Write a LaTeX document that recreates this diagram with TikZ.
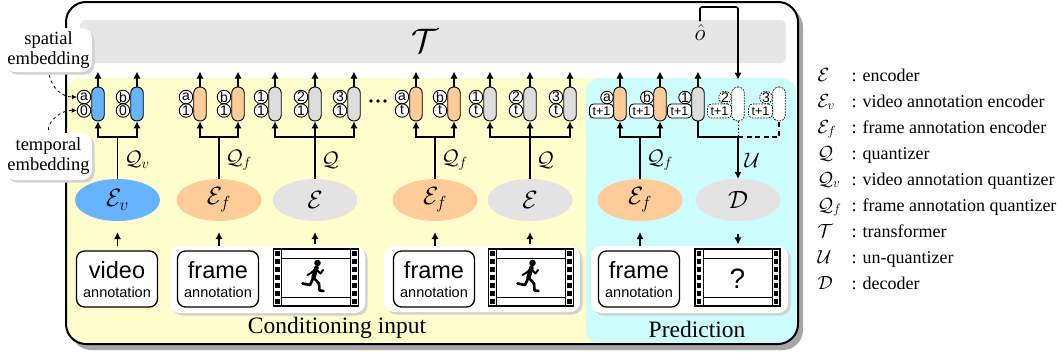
\RequirePackage{fix-cm}
\documentclass[tikz,border=0pt]{standalone}
\usepackage{fontspec}
\setmainfont{Liberation Serif}
\setsansfont{Liberation Sans}
\usetikzlibrary{arrows.meta,shapes.geometric,calc}

\definecolor{condyellow}{HTML}{FFFDCC}
\definecolor{predcyan}{HTML}{CCFCFC}
\definecolor{encblue}{HTML}{66B3FF}
\definecolor{encorange}{HTML}{FFCC99}
\definecolor{encgray}{HTML}{E3E3E3}
\definecolor{pillgray}{HTML}{DDDDDD}
\definecolor{bargray}{HTML}{E6E6E6}

\newcommand\fs[1]{\fontsize{#1}{#1}\selectfont}

% token: tall pill with a spatial tag (top) and a temporal tag (bottom)
\newcommand\tokpair[5]{%
  \node[pill,fill=#5] (#1) at (#2,104) {};
  \node[tag] (#1l) at (#2-14,110.5) {#4};
  \node[tag] (#1u) at (#2-14,97) {#3};
}
% predicted-step token with a wider "t+1" tag
\newcommand\tokpred[5]{%
  \node[pill,fill=#4,#5] (#1) at (#2,104) {};
  \node[tagbox,#5] (#1l) at (#2-18.5,111) {t+1};
  \node[tag,minimum size=12.5pt,#5] (#1u) at (#2-13,97.5) {#3};
}
% film strip frame with sprocket holes
\newcommand\filmstrip[2]{%
  \node[filmbox] (#1) at (#2) {};
  \begin{scope}[shift={(#1.center)}]
    \draw[line width=1pt] (-34.5,-28.5) -- (-34.5,28.5) (34.5,-28.5) -- (34.5,28.5)
      (-34.5,-19.5) -- (34.5,-19.5) (-34.5,19.5) -- (34.5,19.5);
    \foreach \yy in {-24,-16,-8,0,8,16,24}{
      \fill (-40.8,\yy-2.3) rectangle ++(4.6,4.6);
      \fill (36.2,\yy-2.3) rectangle ++(4.6,4.6);
    }
  \end{scope}}

\tikzset{runner/.pic={
  \fill (1.5,-14.5) circle (3.3);
  \draw[line width=4.4pt,line cap=round] (0.5,-10) -- (-2.5,0);
  \draw[line width=2pt,line cap=round,line join=round] (0,-8.5) -- (4.5,-4) -- (7,-7.5);
  \draw[line width=2pt,line cap=round,line join=round] (-0.5,-8.5) -- (-5,-4.5) -- (-8.5,-2.5);
  \draw[line width=2.7pt,line cap=round,line join=round] (-2.5,0) -- (3,6) -- (3.5,13) -- (7.5,13.5);
  \draw[line width=2.7pt,line cap=round,line join=round] (-2.5,0) -- (-6,7.5) -- (-13.5,6);
}}

\begin{document}
\begin{tikzpicture}[x=1pt,y=-1pt,
  arr/.style={line width=1.6pt,-{Latex[length=7pt,width=7.5pt]}},
  link/.style={line width=1.6pt},
  pill/.style={draw,line width=0.9pt,rounded corners=6pt,minimum width=12.5pt,minimum height=34pt,inner sep=0pt},
  tag/.style={circle,draw,fill=white,line width=0.9pt,minimum size=13.5pt,inner sep=0pt,font=\sffamily\fs{14}},
  tagbox/.style={draw,fill=white,rounded corners=4pt,line width=0.9pt,minimum width=24pt,minimum height=14pt,inner sep=0pt,font=\sffamily\fs{12.5}},
  ghost/.style={dash pattern=on 1.6pt off 1.2pt,line width=0.7pt,fill=white},
  enc/.style={ellipse,minimum width=85pt,minimum height=42pt,inner sep=0pt,font=\fs{25}},
  inbox/.style={draw,fill=white,rounded corners=8pt,line width=1.3pt,minimum width=81pt,minimum height=56pt,inner sep=0pt},
  filmbox/.style={draw,fill=white,line width=1.2pt,minimum width=85pt,minimum height=57pt,inner sep=0pt},
  notebox/.style={fill=white,rounded corners=10pt,minimum width=87pt,inner sep=0pt,align=center,font=\fontsize{18.5}{20}\selectfont},
  qlabel/.style={anchor=west,font=\fs{21}},
  legsym/.style={anchor=base west,font=\fs{19}},
  legtxt/.style={anchor=base west,font=\fs{18}},
  ]
\useasboundingbox (0,0) rectangle (1063,356);

% outer frame with shadow
\fill[black!35,rounded corners=20pt] (71,7) rectangle (803,350);
\fill[white,rounded corners=20pt] (66,2) rectangle (798,344);
\begin{scope}
  \clip[rounded corners=20pt] (66,2) rectangle (798,344);
  \fill[condyellow,rounded corners=15pt] (66,78) rectangle (610,360);
  \fill[predcyan,rounded corners=14pt] (586,78) rectangle (796,344);
\end{scope}
\draw[line width=2pt,rounded corners=20pt] (66,2) rectangle (798,344);

% transformer bar
\fill[bargray,rounded corners=6pt] (80,20) rectangle (786,63);
\node[font=\fs{34}] (Tr) at (425,41) {$\mathcal{T}$};
\node[font=\fs{23},inner sep=0.5pt] (oh) at (700,33) {$\hat{o}$};

% input panels
\fill[black!18,rounded corners=10pt] (172.5,248.5) rectangle (367.5,315.5);
\fill[white,rounded corners=10pt] (170,246) rectangle (365,313);
\fill[black!18,rounded corners=10pt] (386.5,248.5) rectangle (582.5,314.5);
\fill[white,rounded corners=10pt] (384,246) rectangle (580,312);
\fill[black!18,rounded corners=10pt] (593.5,248.5) rectangle (790.5,315.5);
\fill[white,rounded corners=10pt] (591,246) rectangle (788,313);

% annotation boxes
\node[inbox] (vid) at (117,279) {};
\node[font=\sffamily\fs{23.5}] (vidA) at (117,270) {video};
\node[font=\sffamily\fs{14.5}] (vidB) at (117,292) {annotation};
\node[inbox] (fr1) at (218,279) {};
\node[font=\sffamily\fs{23.5}] (fr1A) at (218,270) {frame};
\node[font=\sffamily\fs{14.5}] (fr1B) at (218,292) {annotation};
\node[inbox] (fr2) at (434,279) {};
\node[font=\sffamily\fs{23.5}] (fr2A) at (434,270) {frame};
\node[font=\sffamily\fs{14.5}] (fr2B) at (434,292) {annotation};
\node[inbox] (fr3) at (639,279) {};
\node[font=\sffamily\fs{23.5}] (fr3A) at (639,270) {frame};
\node[font=\sffamily\fs{14.5}] (fr3B) at (639,292) {annotation};

% video frames
\filmstrip{fm1}{316,277.5}
\pic at (fm1.center) {runner};
\filmstrip{fm2}{531,277.5}
\pic at (fm2.center) {runner};
\filmstrip{fm3}{737.5,277.5}
\node[font=\sffamily\fs{28}] (qm) at (737.5,279) {?};

% encoders / decoder
\node[enc,fill=encblue] (Ev) at (117.5,200) {$\mathcal{E}_v$};
\node[enc,fill=encorange] (Ef1) at (219,200) {$\mathcal{E}_f$};
\node[enc,fill=encgray] (E1) at (315,200) {$\mathcal{E}$};
\node[enc,fill=encorange] (Ef2) at (435,200) {$\mathcal{E}_f$};
\node[enc,fill=encgray] (E2) at (530,200) {$\mathcal{E}$};
\node[enc,fill=encorange] (Ef3) at (640,200) {$\mathcal{E}_f$};
\node[enc,fill=encgray] (Dec) at (738,200) {$\mathcal{D}$};

% inputs into encoders, decoder into frame
\foreach \i/\e in {vid/Ev,fr1/Ef1,fm1/E1,fr2/Ef2,fm2/E2,fr3/Ef3}
  \draw[arr,shorten <=4pt,shorten >=11pt] (\e.south |- \i.north) -- (\e.south);
\draw[arr,shorten <=13pt,shorten >=4pt] (Dec.south) -- (Dec.south |- fm3.north);

% tokens
\tokpair{va}{98}{a}{0}{encblue}
\tokpair{vb}{137}{b}{0}{encblue}
\tokpair{fa}{200}{a}{1}{encorange}
\tokpair{fb}{238}{b}{1}{encorange}
\tokpair{ga}{275}{1}{1}{pillgray}
\tokpair{gb}{315}{2}{1}{pillgray}
\tokpair{gc}{354}{3}{1}{pillgray}
\tokpair{ta}{416}{a}{t}{encorange}
\tokpair{tb}{454}{b}{t}{encorange}
\tokpair{ha}{490}{1}{t}{pillgray}
\tokpair{hb}{530}{2}{t}{pillgray}
\tokpair{hc}{570}{3}{t}{pillgray}
\tokpred{pa}{620}{a}{encorange}{}
\tokpred{pb}{660}{b}{encorange}{}
\tokpred{pc}{698}{1}{pillgray}{}
\tokpred{pd}{738}{2}{white}{ghost}
\tokpred{pe}{779}{3}{white}{ghost}

\foreach \dx in {371,378,385} \fill (\dx,101) circle (1.8);

% tokens into the transformer
\foreach \p in {va,vb,fa,fb,ga,gb,gc,ta,tb,ha,hb,hc,pa,pb,pc}
  \draw[arr] (\p.north) -- ++(0,-15);

% quantizer fan-outs
\draw[link] (Ev.north) -- (Ev.north |- 0,137) coordinate (jv);
\draw[arr] (jv) -| (va.south);
\draw[arr] (jv) -| (vb.south);
\draw[link] (Ef1.north) -- (Ef1.north |- 0,137) coordinate (jf1);
\draw[arr] (jf1) -| (fa.south);
\draw[arr] (jf1) -| (fb.south);
\draw[link] (E1.north) -- (E1.north |- 0,137) coordinate (jq1);
\draw[arr] (jq1) -| (ga.south);
\draw[arr] (jq1) -- (gb.south);
\draw[arr] (jq1) -| (gc.south);
\draw[link] (Ef2.north) -- (Ef2.north |- 0,137) coordinate (jf2);
\draw[arr] (jf2) -| (ta.south);
\draw[arr] (jf2) -| (tb.south);
\draw[link] (E2.north) -- (E2.north |- 0,137) coordinate (jq2);
\draw[arr] (jq2) -| (ha.south);
\draw[arr] (jq2) -- (hb.south);
\draw[arr] (jq2) -| (hc.south);
\draw[link] (Ef3.north) -- (Ef3.north |- 0,137) coordinate (jf3);
\draw[arr] (jf3) -| (pa.south);
\draw[arr] (jf3) -| (pb.south);

% un-quantizer gathering into the decoder
\coordinate (ju) at (738,137);
\draw[link] (pc.south) |- (ju);
\draw[link,dash pattern=on 5pt off 3.5pt] (ju) -| (pe.south);
\draw[line width=1pt,dash pattern=on 1.5pt off 2pt] (pd.south) -- (ju);
\draw[arr] (ju) -- (Dec.north);

% predicted output fed back
\draw[arr,rounded corners=2pt,shorten <=3pt,shorten >=7pt] (oh.north) |- (720,7) -| (pd.north);

% quantizer labels
\node[qlabel] (lqv) at (121,160) {$\mathcal{Q}_v$};
\node[qlabel] (lqf1) at (222,160) {$\mathcal{Q}_f$};
\node[qlabel] (lq1) at (318,160) {$\mathcal{Q}$};
\node[qlabel] (lqf2) at (438,160) {$\mathcal{Q}_f$};
\node[qlabel] (lq2) at (533,160) {$\mathcal{Q}$};
\node[qlabel] (lqf3) at (643,160) {$\mathcal{Q}_f$};
\node[qlabel] (lu) at (741,160) {$\mathcal{U}$};

% section titles
\node[font=\fs{23.5}] (condlab) at (337,328) {Conditioning input};
\node[font=\fs{23.5}] (predlab) at (697,329) {Prediction};

% embedding notes
\fill[black!18,rounded corners=10pt] (7.5,30.5) rectangle (94.5,74.5);
\node[notebox,minimum height=44pt] (spat) at (48.5,50) {spatial\\embedding};
\fill[black!18,rounded corners=10pt] (7.5,135.5) rectangle (94.5,182.5);
\node[notebox,minimum height=47pt] (temp) at (48.5,156.5) {temporal\\embedding};
\draw[dashed,line width=0.8pt,-{Latex[length=5pt,width=5pt]},shorten <=3pt]
  (spat.south) .. controls (52,88) and (62,97) .. (vau.west);
\draw[dashed,line width=0.8pt,-{Latex[length=5pt,width=5pt]},shorten <=3pt]
  (temp.north) .. controls (48,122) and (60,110) .. (val.west);

% legend
\node[legsym] (ls1) at (814,81) {$\mathcal{E}$};
\node[legtxt] (lt1) at (848,81) {: encoder};
\node[legsym] (ls2) at (814,107) {$\mathcal{E}_v$};
\node[legtxt] (lt2) at (848,107) {: video annotation encoder};
\node[legsym] (ls3) at (814,133) {$\mathcal{E}_f$};
\node[legtxt] (lt3) at (848,133) {: frame annotation encoder};
\node[legsym] (ls4) at (814,159) {$\mathcal{Q}$};
\node[legtxt] (lt4) at (848,159) {: quantizer};
\node[legsym] (ls5) at (814,185) {$\mathcal{Q}_v$};
\node[legtxt] (lt5) at (848,185) {: video annotation quantizer};
\node[legsym] (ls6) at (814,211) {$\mathcal{Q}_f$};
\node[legtxt] (lt6) at (848,211) {: frame annotation quantizer};
\node[legsym] (ls7) at (814,237) {$\mathcal{T}$};
\node[legtxt] (lt7) at (848,237) {: transformer};
\node[legsym] (ls8) at (814,263) {$\mathcal{U}$};
\node[legtxt] (lt8) at (848,263) {: un-quantizer};
\node[legsym] (ls9) at (814,289) {$\mathcal{D}$};
\node[legtxt] (lt9) at (848,289) {: decoder};
\end{tikzpicture}
\end{document}
